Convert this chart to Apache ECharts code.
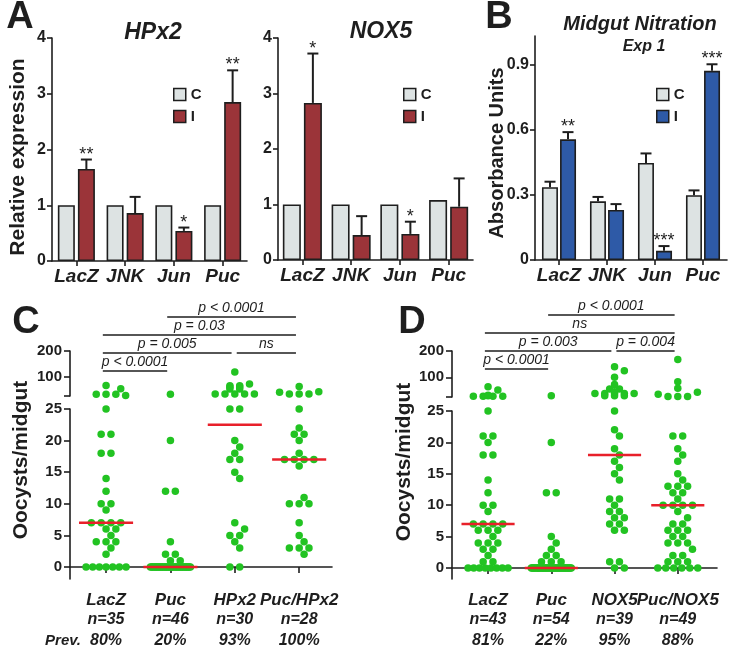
<!DOCTYPE html>
<html><head><meta charset="utf-8">
<script src="https://cdn.jsdelivr.net/npm/echarts@6/dist/echarts.min.js"></script>
<style>html,body{margin:0;padding:0;background:#fff}#c{width:737px;height:650px}</style>
</head><body><div id="c"></div>
<script>
// ---------- data ----------
const genes = ['LacZ', 'JNK', 'Jun', 'Puc'];
const hpx2C = [1, 1, 1, 1];
const hpx2I = [1.65, 0.86, 0.54, 2.85];
const hpx2IErr = [1.82, 1.15, 0.60, 3.42];
const hpx2Stars = ['**', '', '*', '**'];
const nox5C = [1, 1, 1, 1.08];
const nox5I = [2.83, 0.45, 0.47, 0.96];
const nox5IErr = [3.72, 0.79, 0.69, 1.47];
const nox5Stars = ['*', '', '*', ''];
const nitC = [0.335, 0.27, 0.446, 0.298];
const nitCErr = [0.36, 0.29, 0.49, 0.32];
const nitI = [0.555, 0.23, 0.042, 0.87];
const nitIErr = [0.588, 0.257, 0.064, 0.90];
const nitStars = ['**', '', '***', '***'];
const nitTicks = [0, 0.3, 0.6, 0.9];
const upperTicks = [25, 100, 200];
const upperLabels = [100, 200];
const lowerTicks = [0, 5, 10, 15, 20, 25];

const groupsC = ['LacZ', 'Puc', 'HPx2', 'Puc/HPx2'];
const nC = [35, 46, 30, 28];
const prevC = ['80%', '20%', '93%', '100%'];
const cLacZ = [66, 53, 32, 32, 32, 27, 25, 21, 21, 18, 18, 14, 12, 10, 10, 9, 7, 7, 7, 7, 6, 6, 5, 4, 4, 4, 3, 2, 0, 0, 0, 0, 0, 0, 0];
const cPuc = [32, 20, 12, 12, 4, 2, 2, 1, 1, 0, 0, 0, 0, 0, 0, 0, 0, 0, 0, 0, 0, 0, 0, 0, 0, 0, 0, 0, 0, 0, 0, 0, 0, 0, 0, 0, 0, 0, 0, 0, 0, 0, 0, 0, 0, 0];
const cHPx2 = [118, 72, 65, 65, 60, 60, 52, 52, 33, 33, 33, 33, 33, 25, 25, 20, 19, 18, 17, 17, 15, 14, 7, 6, 5, 5, 4, 3, 0, 0];
const cPucHPx2 = [62, 42, 40, 33, 33, 33, 25, 22, 21, 21, 20, 18, 17, 17, 17, 17, 16, 11, 10, 10, 10, 7, 5, 4, 3, 3, 3, 2];

const groupsD = ['LacZ', 'Puc', 'NOX5', 'Puc/NOX5'];
const nD = [43, 54, 39, 49];
const prevD = ['81%', '22%', '95%', '88%'];
const dLacZ = [64, 52, 32, 30, 28, 28, 28, 28, 25, 21, 21, 20, 18, 18, 14, 12, 10, 10, 9, 7, 7, 7, 7, 6, 6, 6, 5, 4, 4, 4, 3, 3, 2, 1, 1, 0, 0, 0, 0, 0, 0, 0, 0];
const dPuc = [30, 20, 12, 12, 5, 4, 3, 2, 2, 1, 1, 1, 0, 0, 0, 0, 0, 0, 0, 0, 0, 0, 0, 0, 0, 0, 0, 0, 0, 0, 0, 0, 0, 0, 0, 0, 0, 0, 0, 0, 0, 0, 0, 0, 0, 0, 0, 0, 0, 0, 0, 0, 0, 0];
const dNOX5 = [140, 125, 100, 73, 55, 55, 45, 38, 38, 38, 38, 38, 30, 30, 30, 25, 22, 21, 19, 18, 17, 16, 15, 14, 11, 11, 10, 9, 9, 8, 8, 7, 7, 6, 6, 1, 1, 0, 0];
const dPucNOX5 = [168, 83, 58, 43, 35, 27, 27, 27, 21, 21, 19, 18, 17, 15, 14, 13, 13, 13, 12, 12, 11, 10, 10, 10, 10, 9, 8, 7, 7, 6, 6, 6, 5, 5, 4, 4, 4, 3, 2, 2, 1, 1, 1, 0, 0, 0, 0, 0, 0];

const bracketsC = [
  { from: 2, to: 4, level: 4, text: 'p < 0.0001' },
  { from: 1, to: 4, level: 3, text: 'p = 0.03' },
  { from: 1, to: 3, level: 2, text: 'p = 0.005' },
  { from: 3, to: 4, level: 2, text: 'ns' },
  { from: 1, to: 2, level: 1, text: 'p < 0.0001' }
];
const bracketsD = [
  { from: 2, to: 4, level: 4, text: 'p < 0.0001' },
  { from: 1, to: 4, level: 3, text: 'ns' },
  { from: 1, to: 3, level: 2, text: 'p = 0.003' },
  { from: 3, to: 4, level: 2, text: 'p = 0.004' },
  { from: 1, to: 2, level: 1, text: 'p < 0.0001' }
];

// ---------- styles ----------
const SANS = "'Liberation Sans',Arial,Helvetica,sans-serif";
const INK = '#1e1e1e';
const GRAY = '#dde3e3';
const RED = '#9b3439';
const BLUE = '#2e5aa7';
const GREEN = '#22c322';
const MEDIAN = '#e8202a';
const aLine = { show: true, lineStyle: { color: INK, width: 1.6 } };
const aTick = { show: true, length: 5, lineStyle: { color: INK, width: 1.6 } };

const chart = echarts.init(document.getElementById('c'), null, { renderer: 'canvas' });

const grids = [
  { left: 52, top: 38, width: 195, height: 223 },   // 0 HPx2
  { left: 278, top: 38, width: 195, height: 222 },  // 1 NOX5
  { left: 535, top: 36, width: 192, height: 224 },  // 2 Nitration
  { left: 70, top: 351, width: 262, height: 45 },   // 3 C upper
  { left: 70, top: 409, width: 262, height: 170 },  // 4 C lower
  { left: 70, top: 299, width: 262, height: 90 },   // 5 C brackets
  { left: 452, top: 351, width: 265, height: 46 },  // 6 D upper
  { left: 452, top: 411, width: 265, height: 168 }, // 7 D lower
  { left: 452, top: 297, width: 265, height: 90 }   // 8 D brackets
];

function catX(g) {
  return {
    type: 'category', gridIndex: g, data: genes, axisLine: aLine,
    axisTick: { show: true, alignWithLabel: true, length: 5, lineStyle: { color: INK, width: 1.6 } },
    axisLabel: { interval: 0, hideOverlap: false, fontFamily: SANS, fontStyle: 'italic', fontWeight: 'bold', fontSize: 19, color: INK, margin: 6 }
  };
}
const tickLabelStyle = { fontFamily: SANS, fontWeight: 'bold', fontSize: 15, color: INK };
const C_MIN = 0.44, C_MAX = 4.51, D_MIN = 0.43, D_MAX = 4.62;
const C_YMIN = -1.9, D_YMIN = -1.75;
function dotX(g, min, max) {
  return { type: 'value', gridIndex: g, min: min, max: max, axisLine: aLine, splitLine: { show: false },
    axisTick: { show: true, customValues: [1, 2, 3, 4], length: 6, lineStyle: { color: INK, width: 1.6 } },
    axisLabel: { show: false } };
}
const xAxes = [
  catX(0), catX(1), catX(2),
  { type: 'value', gridIndex: 3, min: C_MIN, max: C_MAX, show: false },
  dotX(4, C_MIN, C_MAX),
  { type: 'value', gridIndex: 5, min: C_MIN, max: C_MAX, show: false },
  { type: 'value', gridIndex: 6, min: D_MIN, max: D_MAX, show: false },
  dotX(7, D_MIN, D_MAX),
  { type: 'value', gridIndex: 8, min: D_MIN, max: D_MAX, show: false }
];
function barY(g, max) {
  return { type: 'value', gridIndex: g, min: 0, max: max, interval: 1, axisLine: aLine, axisTick: aTick,
    splitLine: { show: false }, axisLabel: Object.assign({ margin: 6 }, tickLabelStyle, { fontSize: 16 }) };
}
function upperY(g) {
  return { type: 'value', gridIndex: g, min: 25, max: 200, axisLine: aLine, splitLine: { show: false },
    axisTick: { show: true, customValues: upperTicks, length: 6, lineStyle: { color: INK, width: 1.6 } },
    axisLabel: Object.assign({ customValues: upperLabels, margin: 8 }, tickLabelStyle) };
}
function lowerY(g, min) {
  return { type: 'value', gridIndex: g, min: min, max: 25, axisLine: aLine, splitLine: { show: false },
    axisTick: { show: true, customValues: lowerTicks, length: 6, lineStyle: { color: INK, width: 1.6 } },
    axisLabel: Object.assign({ customValues: lowerTicks, margin: 8 }, tickLabelStyle) };
}
const yAxes = [
  barY(0, 4), barY(1, 4),
  { type: 'value', gridIndex: 2, min: 0, max: 1.03, axisLine: aLine, splitLine: { show: false },
    axisTick: Object.assign({ customValues: nitTicks }, aTick),
    axisLabel: Object.assign({ customValues: nitTicks, margin: 6, formatter: v => v === 0 ? '0' : v.toFixed(1) }, tickLabelStyle, { fontSize: 16 }) },
  upperY(3), lowerY(4, C_YMIN),
  { type: 'value', gridIndex: 5, min: 0, max: 5, show: false },
  upperY(6), lowerY(7, D_YMIN),
  { type: 'value', gridIndex: 8, min: 0, max: 5, show: false }
];

function txt(text, x, y, font, rot) {
  return { type: 'text', x: x, y: y, rotation: rot || 0, silent: true,
    style: { text: text, font: font, fill: INK, align: 'center', verticalAlign: 'middle', textAlign: 'center', textVerticalAlign: 'middle' } };
}
const graphics = [
  txt('A', 20, 18, 'bold 38px ' + SANS),
  txt('B', 499, 18, 'bold 38px ' + SANS),
  txt('C', 26, 323, 'bold 38px ' + SANS),
  txt('D', 412, 323, 'bold 38px ' + SANS),
  txt('HPx2', 153, 33, 'italic bold 23px ' + SANS),
  txt('NOX5', 381, 32, 'italic bold 23px ' + SANS),
  txt('Midgut Nitration', 640, 24, 'italic bold 20px ' + SANS),
  txt('Exp 1', 644, 47, 'italic bold 16px ' + SANS),
  txt('Relative expression', 18, 157, 'bold 21px ' + SANS, Math.PI / 2),
  txt('Absorbance Units', 497, 153, 'bold 20px ' + SANS, Math.PI / 2),
  txt('Oocysts/midgut', 21, 460, 'bold 21px ' + SANS, Math.PI / 2),
  txt('Oocysts/midgut', 404, 462, 'bold 21px ' + SANS, Math.PI / 2),
  txt('Prev.', 63, 641, 'italic bold 15px ' + SANS)
];

function legendAt(left, names) {
  return { left: left, top: 82, orient: 'vertical', itemWidth: 12, itemHeight: 12, itemGap: 7, icon: 'rect',
    selectedMode: false, data: names, formatter: n => n.charAt(0),
    itemStyle: { borderColor: INK, borderWidth: 1.5 },
    textStyle: { fontFamily: SANS, fontWeight: 'bold', fontSize: 15, color: INK } };
}

chart.setOption({
  animation: false,
  textStyle: { fontFamily: SANS },
  grid: grids, xAxis: xAxes, yAxis: yAxes,
  legend: [legendAt(168, ['C', 'I']), legendAt(398, ['C', 'I']), legendAt(651, ['Cb', 'Ib'])],
  graphic: graphics,
  series: []
});

// ---------- series ----------
function bar(name, ax, data, color, width, gap) {
  return { type: 'bar', name: name, xAxisIndex: ax, yAxisIndex: ax, data: data, barWidth: width, barGap: gap,
    itemStyle: { color: color, borderColor: INK, borderWidth: 1.6 }, silent: true };
}
function errSeries(ax, vals, errs, stars, offset) {
  return {
    type: 'custom', xAxisIndex: ax, yAxisIndex: ax, z: 4, silent: true, clip: false,
    data: vals.map((v, i) => [i, v, errs[i]]),
    renderItem: function (params, api) {
      const i = api.value(0);
      const b = api.coord([i, api.value(1)]);
      const t = api.coord([i, api.value(2)]);
      const x = b[0] + offset;
      const kids = [
        { type: 'line', shape: { x1: x, y1: b[1], x2: x, y2: t[1] }, style: { stroke: INK, lineWidth: 2 } },
        { type: 'line', shape: { x1: x - 5.5, y1: t[1], x2: x + 5.5, y2: t[1] }, style: { stroke: INK, lineWidth: 2 } }
      ];
      const st = stars ? stars[params.dataIndex] : '';
      if (st) kids.push({ type: 'text', x: x, y: t[1] - 5,
        style: { text: st, fill: INK, font: '18px ' + SANS, align: 'center', verticalAlign: 'middle', textAlign: 'center', textVerticalAlign: 'middle' } });
      return { type: 'group', children: kids };
    }
  };
}

const series = [
  bar('C', 0, hpx2C, GRAY, 17, '18%'), bar('I', 0, hpx2I, RED, 17, '18%'),
  errSeries(0, hpx2I, hpx2IErr, hpx2Stars, 10),
  bar('C', 1, nox5C, GRAY, 18, '17%'), bar('I', 1, nox5I, RED, 18, '17%'),
  errSeries(1, nox5I, nox5IErr, nox5Stars, 10.5),
  bar('Cb', 2, nitC, GRAY, 16, '13%'), bar('Ib', 2, nitI, BLUE, 16, '13%'),
  errSeries(2, nitC, nitCErr, null, -9), errSeries(2, nitI, nitIErr, nitStars, 9)
];

function median(arr) {
  const s = arr.slice().sort((a, b) => a - b);
  const m = s.length >> 1;
  return s.length % 2 ? s[m] : (s[m - 1] + s[m]) / 2;
}

function swarm(values, center, toY, pxPerX) {
  const counts = new Map();
  values.forEach(v => counts.set(v, (counts.get(v) || 0) + 1));
  const uniq = Array.from(counts.keys()).sort((a, b) => counts.get(b) - counts.get(a) || b - a);
  const S = 9.8, W = 40, D = 6.5;
  const placed = [], out = [];
  uniq.forEach(v => {
    const k = counts.get(v), y = toY(v);
    const s = k > 1 ? Math.min(S, W / (k - 1)) : 0;
    const compressed = k > 1 && s < S * 0.99;
    const base = [];
    for (let j = 0; j < k; j++) base.push((j - (k - 1) / 2) * s);
    let shift = 0;
    if (!compressed) {
      const cands = [0];
      for (let t = 1; t <= 4; t++) cands.push(t * S / 2, -t * S / 2);
      const ok = cands.find(c => base.every(b => Math.abs(b + c) <= W / 2 + 0.1 &&
        placed.every(p => p.soft || Math.hypot(b + c - p.x, y - p.y) >= D)));
      shift = ok === undefined ? 0 : ok;
    }
    base.forEach(b => { placed.push({ x: b + shift, y: y, soft: compressed }); out.push([center + (b + shift) / pxPerX, v]); });
  });
  return out;
}

const richCat = {
  g: { fontFamily: SANS, fontStyle: 'italic', fontWeight: 'bold', fontSize: 17, color: INK, lineHeight: 20 },
  n: { fontFamily: SANS, fontStyle: 'italic', fontWeight: 'bold', fontSize: 16, color: INK, lineHeight: 20 },
  p: { fontFamily: SANS, fontStyle: 'italic', fontWeight: 'bold', fontSize: 16, color: INK, lineHeight: 22 }
};

function dotPanel(groupsData, names, ns, prevs, yMin, upAx, lowAx, brAx, brackets) {
  const pxPerX = chart.convertToPixel({ xAxisIndex: lowAx }, 1) - chart.convertToPixel({ xAxisIndex: lowAx }, 0);
  const toY = v => v > 25 ? chart.convertToPixel({ yAxisIndex: upAx }, v) : chart.convertToPixel({ yAxisIndex: lowAx }, v);
  const up = [], low = [];
  groupsData.forEach((vals, gi) => {
    swarm(vals, gi + 1, toY, pxPerX).forEach(p => (p[1] > 25 ? up : low).push(p));
  });
  const dotStyle = { type: 'scatter', symbol: 'circle', symbolSize: 7.5, itemStyle: { color: GREEN, opacity: 1 }, clip: false, silent: true, z: 3 };
  series.push(Object.assign({ xAxisIndex: upAx, yAxisIndex: upAx, data: up }, dotStyle));
  series.push(Object.assign({ xAxisIndex: lowAx, yAxisIndex: lowAx, data: low }, dotStyle));
  groupsData.forEach((vals, gi) => {
    const m = median(vals);
    series.push({ type: 'line', xAxisIndex: lowAx, yAxisIndex: lowAx, symbol: 'none', silent: true, z: 6, clip: false,
      lineStyle: { color: MEDIAN, width: 2.5 }, data: [[gi + 1 - 0.42, m], [gi + 1 + 0.42, m]] });
  });
  // category labels (name / n / prevalence) under each group
  series.push({ type: 'scatter', xAxisIndex: lowAx, yAxisIndex: lowAx, symbolSize: 0, silent: true, clip: false,
    itemStyle: { opacity: 1, color: INK },
    data: names.map((nm, i) => ({ value: [i + 1, yMin],
      label: { formatter: '{g|' + nm + '}\n{n|n=' + ns[i] + '}\n{p|' + prevs[i] + '}' } })),
    label: { show: true, position: 'bottom', distance: 11, align: 'center', color: INK, opacity: 1, rich: richCat },
    labelLayout: { hideOverlap: false } });
  const labels = [];
  brackets.forEach(br => {
    const startsAfterEnd = brackets.some(o => o !== br && o.level === br.level && o.to === br.from);
    const x1 = br.from + (startsAfterEnd ? 0.03 : -0.05);
    const x2 = br.to - 0.05;
    series.push({ type: 'line', xAxisIndex: brAx, yAxisIndex: brAx, symbol: 'none', silent: true,
      lineStyle: { color: INK, width: 1.6 }, data: [[x1, br.level], [x2, br.level]] });
    labels.push({ name: br.text, value: [(x1 + x2) / 2, br.level] });
  });
  series.push({ type: 'scatter', xAxisIndex: brAx, yAxisIndex: brAx, symbolSize: 1, silent: true,
    itemStyle: { color: 'rgba(0,0,0,0)' }, data: labels,
    label: { show: true, position: 'top', distance: 1, formatter: '{b}', fontFamily: SANS, fontStyle: 'italic', fontSize: 14, color: INK, opacity: 1 } });
}

dotPanel([cLacZ, cPuc, cHPx2, cPucHPx2], groupsC, nC, prevC, C_YMIN, 3, 4, 5, bracketsC);
dotPanel([dLacZ, dPuc, dNOX5, dPucNOX5], groupsD, nD, prevD, D_YMIN, 6, 7, 8, bracketsD);

chart.setOption({ series: series });
</script>
</body></html>
